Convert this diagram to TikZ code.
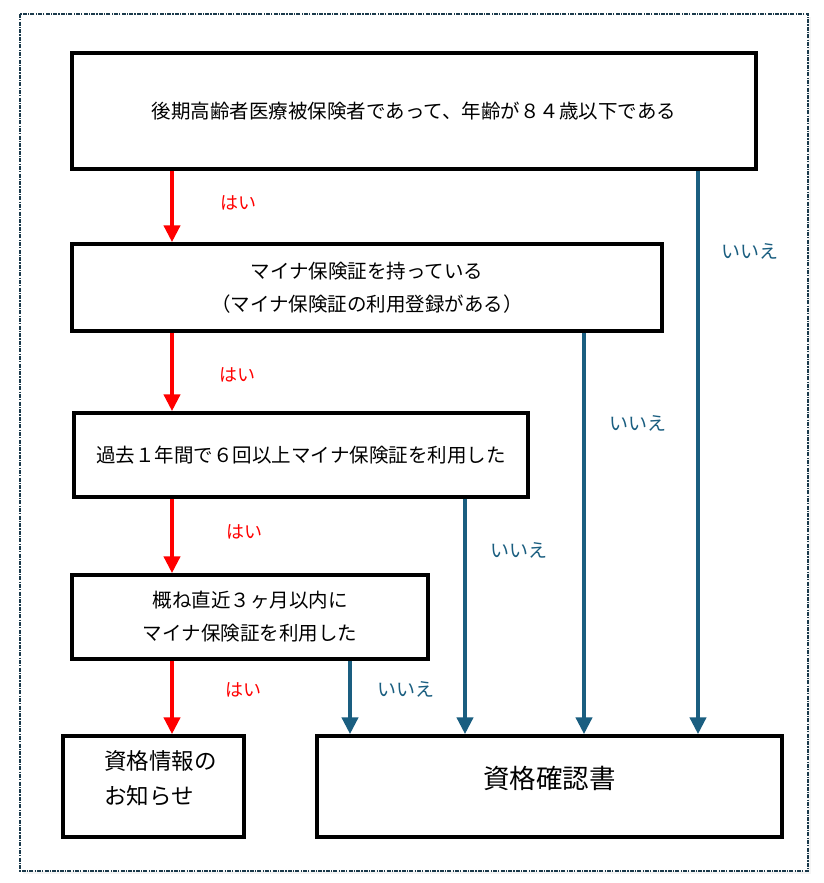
\documentclass[tikz,border=0pt]{standalone}
\usepackage{fontspec}
\setmainfont{Noto Sans CJK JP}
\usetikzlibrary{arrows.meta}
\definecolor{noblue}{HTML}{1A5E80}
\definecolor{frameblue}{HTML}{1B3A4B}
\tikzset{
  box/.style={draw=black, line width=3.5pt, fill=white, align=center, inner sep=0pt,
    font=\fontsize{19.5}{33}\selectfont},
  yesarrow/.style={draw=red, line width=4.5pt, -{Triangle[width=16pt,length=17pt]}},
  noarrow/.style={draw=noblue, line width=4.5pt, -{Triangle[width=16pt,length=17pt]}},
  yeslabel/.style={text=red, font=\fontsize{18}{20}\selectfont},
  nolabel/.style={text=noblue, font=\fontsize{19}{20}\selectfont},
}
\begin{document}
\begin{tikzpicture}[x=1pt,y=-1pt]
\useasboundingbox (0,0) rectangle (823,883);
\fill[gray!8] (23,17) rectangle (811,874);
\draw[frameblue, line width=1.6pt, fill=white, dash pattern=on 4pt off 1.2pt on 1.2pt off 1.2pt] (20,14) rectangle (808,871);
% boxes
\node[box, minimum width=684pt, minimum height=116pt] (b1) at (414,111) {後期高齢者医療被保険者であって、年齢が８４歳以下である};
\node[box, minimum width=590pt, minimum height=87pt] (b2) at (367,287.5) {マイナ保険証を持っている\\（マイナ保険証の利用登録がある）};
\node[box, minimum width=454pt, minimum height=84pt] (b3) at (301,455) {過去１年間で６回以上マイナ保険証を利用した};
\node[box, minimum width=356pt, minimum height=84pt] (b4) at (250,617) {概ね直近３ヶ月以内に\\マイナ保険証を利用した};
\node[box, minimum width=181pt, minimum height=101pt, font=\fontsize{22.5}{35}\selectfont, align=left, text depth=17pt] (b5) at (153.5,786.5) {\hspace*{14pt}資格情報の\\\hspace*{14pt}お知らせ};
\node[box, minimum width=465pt, minimum height=101pt, font=\fontsize{26.5}{30}\selectfont, text depth=19pt] (b6) at (549.5,786.5) {資格確認書};
% yes arrows
\draw[yesarrow] (b1.south -| 172,0) -- (b2.north -| 172,0);
\draw[yesarrow] (b2.south -| 172,0) -- (b3.north -| 172,0);
\draw[yesarrow] (b3.south -| 172,0) -- (b4.north -| 172,0);
\draw[yesarrow] (b4.south -| 172,0) -- (b5.north -| 172,0);
\node[yeslabel] (y1) at (238,203) {はい};
\node[yeslabel] (y2) at (237,375) {はい};
\node[yeslabel] (y3) at (244,532) {はい};
\node[yeslabel] (y4) at (243,690) {はい};
% no arrows
\draw[noarrow] (b1.south -| 698,0) -- (b6.north -| 698,0);
\draw[noarrow] (b2.south -| 584,0) -- (b6.north -| 584,0);
\draw[noarrow] (b3.south -| 465,0) -- (b6.north -| 465,0);
\draw[noarrow] (b4.south -| 350,0) -- (b6.north -| 350,0);
\node[nolabel] (n1) at (750,251) {いいえ};
\node[nolabel] (n2) at (638,423) {いいえ};
\node[nolabel] (n3) at (519,550) {いいえ};
\node[nolabel] (n4) at (406,689) {いいえ};
\end{tikzpicture}
\end{document}
